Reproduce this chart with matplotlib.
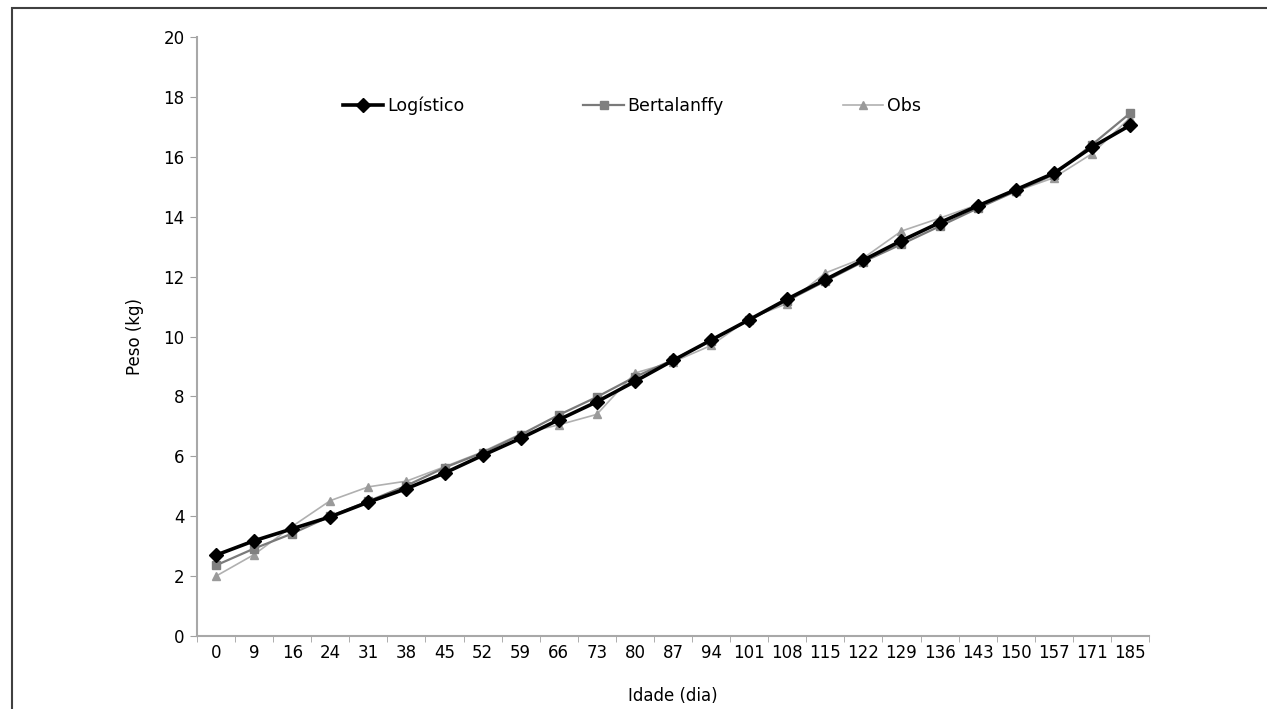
import matplotlib
matplotlib.use("Agg")
import matplotlib.pyplot as plt
from matplotlib.patches import Rectangle
import numpy as np

plt.rcParams['font.family'] = ['DejaVu Sans']

idade = ["0", "9", "16", "24", "31", "38", "45", "52", "59", "66", "73", "80", "87",
         "94", "101", "108", "115", "122", "129", "136", "143", "150", "157", "171", "185"]
logistico = [2.70, 3.18, 3.58, 3.98, 4.47, 4.92, 5.44, 6.03, 6.60, 7.22, 7.82, 8.50, 9.20,
             9.88, 10.56, 11.25, 11.90, 12.55, 13.20, 13.80, 14.36, 14.90, 15.45, 16.32, 17.05]
bertalanffy = [2.36, 2.92, 3.42, 4.00, 4.50, 5.02, 5.62, 6.12, 6.72, 7.38, 7.98, 8.65, 9.22,
               9.86, 10.56, 11.20, 11.85, 12.50, 13.08, 13.68, 14.28, 14.85, 15.40, 16.40, 17.45]
obs = [2.00, 2.72, 3.66, 4.52, 4.98, 5.17, 5.65, 6.15, 6.75, 7.05, 7.40, 8.78, 9.15,
       9.70, 10.60, 11.10, 12.12, 12.62, 13.52, 13.95, 14.40, 14.85, 15.30, 16.10, 17.30]

fig = plt.figure(figsize=(12.67, 7.09), dpi=100)
ax = fig.add_axes([197/1267, 1-636/709, (1149-197)/1267, (636-37)/709])

x = np.arange(len(idade))
ax.plot(x, obs, color="#b0b0b0", lw=1.2, marker="^", ms=6, mfc="#9a9a9a", mec="#9a9a9a",
        label="Obs", zorder=2)
ax.plot(x, bertalanffy, color="#7a7a7a", lw=1.6, marker="s", ms=6, mfc="#808080", mec="#808080",
        label="Bertalanffy", zorder=3)
ax.plot(x, logistico, color="black", lw=2.6, marker="D", ms=7, mfc="black", mec="black",
        label="Logístico", zorder=4)

ax.set_xlim(-0.5, len(idade) - 0.5)
ax.set_ylim(0, 20)
ax.set_yticks(np.arange(0, 21, 2))
ax.set_xticks(x)
ax.set_xticklabels(idade)
ax.set_xticks(np.arange(-0.5, len(idade), 1), minor=True)
ax.tick_params(axis='x', which='major', length=0, labelsize=12, pad=6)
ax.tick_params(axis='x', which='minor', length=4, color="#a0a0a0", direction='out')
ax.tick_params(axis='y', which='major', length=5, color="#a0a0a0", labelsize=12, pad=4)

for s in ["top", "right"]:
    ax.spines[s].set_visible(False)
for s in ["left", "bottom"]:
    ax.spines[s].set_color("#a8a8a8")
    ax.spines[s].set_linewidth(1.5)

ax.set_ylabel("Peso (kg)", fontsize=12, labelpad=14)
ax.set_xlabel("Idade (dia)", fontsize=12, labelpad=18)

handles, labels = ax.get_legend_handles_labels()
order = [2, 1, 0]
ax.legend([handles[i] for i in order], [labels[i] for i in order], ncol=3, frameon=False,
          loc="upper left", bbox_to_anchor=(0.1366, 0.926), fontsize=12.5,
          handlelength=2.35, handletextpad=0.2, columnspacing=6.85)

fig.patches.append(Rectangle((12/1267, -0.05), 1.2, 1.05 - 8/709, transform=fig.transFigure,
                             fill=False, edgecolor="#404040", lw=1.5))

fig.savefig("out.png", dpi=100)
